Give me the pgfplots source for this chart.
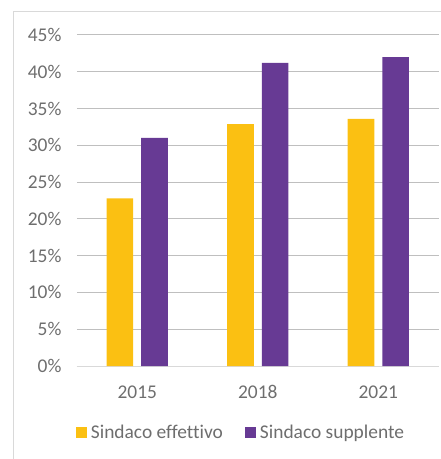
\documentclass[border=0pt]{standalone}
\usepackage{pgfplots}
\pgfplotsset{compat=1.18}
\usepackage{fontspec}
\setmainfont{Carlito}[Ligatures=NoCommon]
\definecolor{yel}{HTML}{FBC012}
\definecolor{pur}{HTML}{673A94}
\definecolor{grid}{HTML}{D9D9D9}
\definecolor{txt}{HTML}{6E6E6E}
\begin{document}
\begin{tikzpicture}
\useasboundingbox (-77bp,-93bp) rectangle (364bp,366bp);
\draw[grid, line width=1bp] (-63bp,-93bp) -- (-63bp,354bp) -- (364bp,354bp);
\begin{axis}[
  at={(0,0)}, anchor=south west,
  scale only axis, width=361.5bp, height=331bp,
  ybar=8bp, bar width=26.7bp,
  xmin=-0.5, xmax=2.5, ymin=0, ymax=45,
  xtick=data, xticklabels={2015,2018,2021},
  ytick={0,5,...,45},
  yticklabel={\pgfmathprintnumber{\tick}\%},
  axis x line*=bottom, axis y line*=left,
  x axis line style={grid, line width=1bp, -},
  y axis line style={draw=none},
  major tick length=0pt,
  ymajorgrids, xmajorgrids=false, grid style={grid, line width=1bp},
  /pgf/number format/assume math mode=true,
  tick label style={font=\fontsize{19.5}{23}\selectfont, text=txt},
  yticklabel style={anchor=east, xshift=-12bp},
  xticklabel style={yshift=-16bp},
  legend style={at={(0.4537,-0.1994)}, anchor=center, draw=none,
    font=\fontsize{19.5}{23}\selectfont, text=txt, legend columns=2,
    /tikz/every odd column/.append style={column sep=2bp},
    /tikz/every even column/.append style={column sep=20bp}},
  legend image code/.code={\fill[#1] (0bp,-5.5bp) rectangle (11bp,5.5bp);},
]
\addplot[fill=yel, draw=none] coordinates {(0,22.8) (1,32.9) (2,33.6)};
\addplot[fill=pur, draw=none] coordinates {(0,31.0) (1,41.2) (2,42.0)};
\legend{Sindaco effettivo, Sindaco supplente}
\end{axis}
\end{tikzpicture}
\end{document}
